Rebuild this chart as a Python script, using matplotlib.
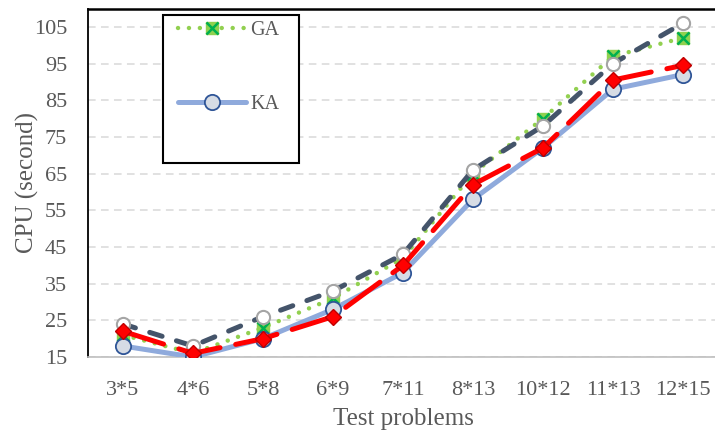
import matplotlib
matplotlib.use("Agg")
import matplotlib.pyplot as plt
from matplotlib.lines import Line2D
from matplotlib.patches import Rectangle

categories = ["3*5", "4*6", "5*8", "6*9", "7*11", "8*13", "10*12", "11*13", "12*15"]
ga = [21, 16, 23, 31, 42, 65, 80, 97, 102]
series2 = [24, 18, 26, 33, 43, 66, 78, 95, 106]
ka = [18, 15, 20, 28, 38, 58, 72, 88, 92]
series4 = [22, 16, 20, 26, 40, 62, 72, 90.5, 94.5]
yticks = [15, 25, 35, 45, 55, 65, 75, 85, 95, 105]

plt.rcParams['font.family'] = ['Liberation Serif', 'DejaVu Serif']
tc = '#595959'
W, H = 715, 436

fig = plt.figure(figsize=(W/100, H/100), dpi=100)
ax = fig.add_axes([88/W, 1-357/H, 630/W, (357-8.5)/H])
x = list(range(len(categories)))

# GA
l_ga, = ax.plot(x, ga, color='#92D050', lw=3.2, dashes=(0.01, 2.45), dash_capstyle='round',
                marker='s', ms=8.5, mfc='#8FD14F', mec='#8FD14F', zorder=3)
m_ga, = ax.plot(x, ga, ls='none', marker='x', ms=8, mew=1.8, color='#00B050', zorder=3.1)
# series 2 (dark dashed)
l_s2, = ax.plot(x, series2, color='#44546A', lw=3.6, dashes=(2.6, 3.0), dash_capstyle='round',
                marker='o', ms=9.5, mfc='white', mec='#A5A5A5', mew=1.5, zorder=4)
# KA
l_ka, = ax.plot(x, ka, color='#8FAADC', lw=3.6, solid_capstyle='round',
                marker='o', ms=11, mfc='#D6DCE5', mec='#2F5597', mew=1.3, zorder=5)
# series 4 (red long dash)
l_s4, = ax.plot(x, series4, color='#FF0000', lw=3.6, dashes=(8.5, 3.2), dash_capstyle='round',
                marker='D', ms=8.5, mfc='#FF0000', mec='#C00000', mew=1.0, zorder=6)

ax.set_xlim(-0.5, 8.5)
ax.set_ylim(15, 110)
ax.set_xticks(x)
ax.set_xticklabels(categories)
ax.set_yticks(yticks)
ax.tick_params(axis='x', length=0, labelsize=16, colors=tc, pad=17)
ax.tick_params(axis='y', length=0, labelsize=16, colors=tc, pad=15)
ax.grid(axis='y', color='#D9D9D9', lw=1.1, ls=(0, (5, 3.5)))
ax.set_axisbelow(True)
ax.spines['right'].set_visible(False)
ax.spines['top'].set_color('black')
ax.spines['top'].set_linewidth(1.8)
ax.spines['left'].set_color('black')
ax.spines['left'].set_linewidth(1.3)
ax.spines['bottom'].set_color('#BFBFBF')
ax.spines['bottom'].set_linewidth(1.2)

ax.set_xlabel('Test problems', fontsize=18, color=tc, labelpad=6)
ax.set_ylabel('CPU (second)', fontsize=18, color=tc)
ax.yaxis.set_label_coords(-(88-39)/630, 0.5)

blank = Line2D([], [], ls='none')
leg = ax.legend([(l_ga, m_ga), blank, l_ka, blank], ['GA', '', 'KA', ''],
                loc='upper left', bbox_to_anchor=((178-88)/630, 1-(21-8.5)/348.5),
                fontsize=14.5, handlelength=3.4, handletextpad=0.2, labelspacing=0.88,
                borderpad=0, borderaxespad=0, frameon=False, labelcolor=tc)
leg.set_zorder(10)

# legend frame, derived from the legend's drawn extent
fig.canvas.draw()
bb = leg.get_window_extent(fig.canvas.get_renderer())
left_px, top_px = bb.x0 - 15, bb.y1 + 6
box_w, box_h = 136, 148
frame = Rectangle((left_px/W, (top_px-box_h)/H), box_w/W, box_h/H, transform=fig.transFigure,
                  facecolor='white', edgecolor='black', lw=1.5, zorder=9, clip_on=False)
ax.add_patch(frame)

fig.savefig('out.png', dpi=100)
